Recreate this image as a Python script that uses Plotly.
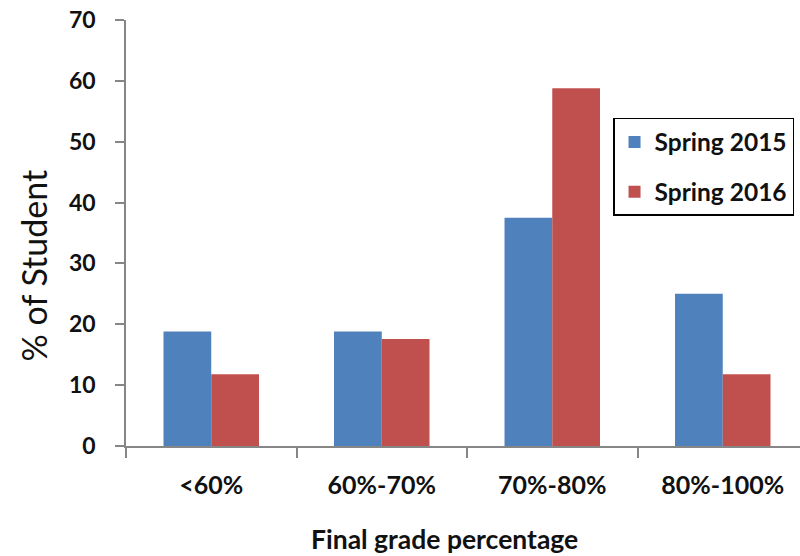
import plotly.graph_objects as go

categories = ["<60%", "60%-70%", "70%-80%", "80%-100%"]
spring_2015 = [18.8, 18.8, 37.5, 25.0]
spring_2016 = [11.8, 17.6, 58.8, 11.8]
y_ticks = [0, 10, 20, 30, 40, 50, 60, 70]

BLUE = "#4F81BD"
RED = "#C0504D"
AXIS = "#868686"
TEXT = "#111111"
FONT = "Lato"

fig = go.Figure()
fig.add_trace(go.Bar(x=categories, y=spring_2015, name="Spring 2015",
                     marker=dict(color=BLUE, line=dict(width=0)),
                     legendgroup="a"))
fig.add_trace(go.Bar(x=categories, y=spring_2016, name="Spring 2016",
                     marker=dict(color=RED, line=dict(width=0)),
                     legendgroup="b"))

fig.update_layout(
    width=800, height=556,
    margin=dict(l=126, r=0, t=20, b=110),
    paper_bgcolor="white", plot_bgcolor="white",
    barmode="group", bargap=0.44, bargroupgap=0,
    showlegend=True,
    legend=dict(
        x=0.7226, y=0.77, xanchor="left", yanchor="top",
        bgcolor="white", bordercolor="black", borderwidth=1.5,
        font=dict(family=FONT, size=24.5, color=TEXT, weight="bold"),
        tracegroupgap=15, traceorder="grouped",
    ),
    font=dict(family=FONT, color=TEXT),
)

fig.update_xaxes(
    range=[-0.5, 3.453],
    showline=True, linecolor=AXIS, linewidth=1.5,
    ticks="outside", tickson="boundaries", ticklen=10, tickwidth=1.5, tickcolor=AXIS,
    tickfont=dict(family=FONT, size=25, color=TEXT, weight="bold"),
    ticklabelstandoff=16,
    showgrid=False, zeroline=False,
)
fig.update_yaxes(
    range=[0, 70], tickvals=y_ticks,
    showline=True, linecolor=AXIS, linewidth=1.5,
    ticks="outside", ticklen=9, tickwidth=1.5, tickcolor=AXIS,
    tickfont=dict(family=FONT, size=23, color=TEXT, weight="bold"),
    ticklabelstandoff=15,
    showgrid=False, zeroline=False,
)

# Axis titles
fig.add_annotation(text="% of Student", xref="paper", yref="paper",
                   x=-0.137, y=0.423, xanchor="center", yanchor="middle",
                   textangle=-90, showarrow=False,
                   font=dict(family=FONT, size=34, color=TEXT))
fig.add_annotation(text="<b>Final grade percentage</b>", xref="paper", yref="paper",
                   x=0.473, y=-0.218, xanchor="center", yanchor="middle",
                   showarrow=False,
                   font=dict(family=FONT, size=26.5, color=TEXT))

fig.write_html("out.html")
